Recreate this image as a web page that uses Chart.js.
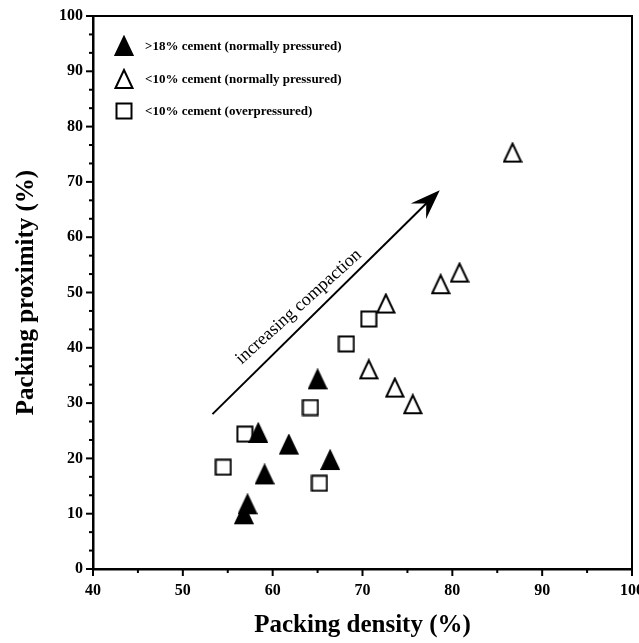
<!DOCTYPE html>
<html>
<head>
<meta charset="utf-8">
<script src="https://cdn.jsdelivr.net/npm/chart.js@4/dist/chart.umd.min.js"></script>
<style>
html,body{margin:0;padding:0;background:#fff;}
#wrap{width:639px;height:643px;position:relative;}
</style>
</head>
<body>
<div id="wrap"><canvas id="c"></canvas></div>
<script>
// ---- data ----
const highCementX = [56.8, 57.2, 58.4, 59.1, 61.8, 66.4, 65.0];
const highCementY = [9.9, 11.7, 24.6, 17.1, 22.5, 19.7, 34.3];
const lowCementNormalX = [70.7, 72.6, 73.6, 75.6, 78.7, 80.8, 86.7];
const lowCementNormalY = [36.1, 48.0, 32.8, 29.8, 51.5, 53.6, 75.3];
const lowCementOverX = [54.5, 56.9, 64.2, 65.2, 68.2, 70.7];
const lowCementOverY = [18.4, 24.4, 29.2, 15.5, 40.7, 45.2];
const seriesLabels = [">18% cement (normally pressured)", "<10% cement (normally pressured)", "<10% cement (overpressured)"];
const xTickValues = [40, 50, 60, 70, 80, 90, 100];
const yTickValues = [0, 10, 20, 30, 40, 50, 60, 70, 80, 90, 100];
const xTitle = "Packing density (%)";
const yTitle = "Packing proximity (%)";
const arrowFrom = [53.3, 28.0];
const arrowTo = [78.6, 68.5];
const arrowLabel = "increasing compaction";
const arrowLabelAt = [62.9, 47.4];

const SERIF = '"Liberation Serif", "Times New Roman", serif';

function makeTriangle(filled){
  const c = document.createElement('canvas'); c.width = 20; c.height = 22;
  const g = c.getContext('2d');
  g.beginPath(); g.moveTo(10, 2); g.lineTo(1.5, 20); g.lineTo(18.5, 20); g.closePath();
  g.lineJoin = 'miter'; g.lineWidth = 2; g.strokeStyle = '#000';
  if (filled){ g.fillStyle = '#000'; g.fill(); } else { g.fillStyle = '#fff'; g.fill(); }
  g.stroke();
  return c;
}
function makeSquare(){
  const c = document.createElement('canvas'); c.width = 18; c.height = 18;
  const g = c.getContext('2d');
  g.fillStyle = '#fff'; g.fillRect(1.5, 1.5, 15, 15);
  g.lineWidth = 2; g.strokeStyle = '#000'; g.strokeRect(1.5, 1.5, 15, 15);
  return c;
}
const imgFilledTri = makeTriangle(true);
const imgOpenTri = makeTriangle(false);
const imgSquare = makeSquare();

function pts(xs, ys){ return xs.map((v, i) => ({x: v, y: ys[i]})); }

const extras = {
  id: 'extras',
  afterDraw(chart){
    const {ctx, chartArea: a, scales: {x, y}} = chart;
    ctx.save();
    ctx.strokeStyle = '#000';
    // top/right frame
    ctx.lineWidth = 2;
    ctx.beginPath(); ctx.moveTo(a.left, a.top); ctx.lineTo(a.right, a.top); ctx.lineTo(a.right, a.bottom); ctx.stroke();
    // x ticks (major + minor)
    for (let v = x.min; v <= x.max + 0.001; v += 5){
      const px = x.getPixelForValue(v);
      const len = (Math.round(v) % 10 === 0) ? 7 : 4;
      ctx.beginPath(); ctx.moveTo(px, a.bottom); ctx.lineTo(px, a.bottom + len); ctx.stroke();
    }
    // y ticks
    for (let k = 0; k <= 30; k++){
      const v = k * 10 / 3;
      const py = y.getPixelForValue(v);
      const len = (k % 3 === 0) ? 7 : 4;
      ctx.beginPath(); ctx.moveTo(a.left, py); ctx.lineTo(a.left - len, py); ctx.stroke();
    }
    // arrow
    const x1 = x.getPixelForValue(arrowFrom[0]), y1 = y.getPixelForValue(arrowFrom[1]);
    const x2 = x.getPixelForValue(arrowTo[0]), y2 = y.getPixelForValue(arrowTo[1]);
    const ang = Math.atan2(y2 - y1, x2 - x1);
    ctx.lineWidth = 2;
    ctx.beginPath(); ctx.moveTo(x1, y1);
    ctx.lineTo(x2 - Math.cos(ang) * 14, y2 - Math.sin(ang) * 14); ctx.stroke();
    ctx.translate(x2, y2); ctx.rotate(ang);
    ctx.fillStyle = '#000';
    ctx.beginPath(); ctx.moveTo(0, 0); ctx.lineTo(-30, -11); ctx.lineTo(-19, 0); ctx.lineTo(-30, 11); ctx.closePath(); ctx.fill();
    ctx.setTransform(1, 0, 0, 1, 0, 0);
    // arrow label
    const tx = x.getPixelForValue(arrowLabelAt[0]), ty = y.getPixelForValue(arrowLabelAt[1]);
    ctx.translate(tx, ty); ctx.rotate(-42 * Math.PI / 180);
    ctx.font = '18px ' + SERIF; ctx.fillStyle = '#000'; ctx.textAlign = 'center'; ctx.textBaseline = 'middle';
    ctx.fillText(arrowLabel, 0, 0);
    ctx.setTransform(1, 0, 0, 1, 0, 0);
    // legend
    const imgs = [imgFilledTri, imgOpenTri, imgSquare];
    const rowsY = [46, 79, 111];
    ctx.font = 'bold 13px ' + SERIF; ctx.textAlign = 'left'; ctx.textBaseline = 'middle';
    for (let i = 0; i < 3; i++){
      const im = imgs[i];
      ctx.drawImage(im, 124 - im.width / 2, rowsY[i] - im.height / 2);
      ctx.fillText(chart.data.datasets[i].label, 145, rowsY[i] + 1);
    }
    ctx.restore();
  }
};

const tickFont = {family: SERIF, size: 16, weight: 'bold'};
new Chart(document.getElementById('c'), {
  type: 'scatter',
  data: {
    datasets: [
      {label: seriesLabels[0], data: pts(highCementX, highCementY), pointStyle: imgFilledTri},
      {label: seriesLabels[1], data: pts(lowCementNormalX, lowCementNormalY), pointStyle: imgOpenTri},
      {label: seriesLabels[2], data: pts(lowCementOverX, lowCementOverY), pointStyle: imgSquare}
    ]
  },
  options: {
    responsive: true, maintainAspectRatio: false, animation: false,
    events: [],
    layout: {padding: {top: 16, right: 7, left: 0, bottom: 0}},
    plugins: {legend: {display: false}, tooltip: {enabled: false}},
    scales: {
      x: {
        type: 'linear', min: 40, max: 100,
        afterBuildTicks: s => { s.ticks = xTickValues.map(v => ({value: v})); },
        ticks: {font: tickFont, color: '#000', padding: 12, maxRotation: 0, autoSkip: false},
        grid: {display: false, drawTicks: false},
        border: {display: true, color: '#000', width: 2.5},
        title: {display: true, text: xTitle, color: '#000', font: {family: SERIF, size: 25, weight: 'bold'}, padding: {top: 0, bottom: 2}},
        afterFit: s => { s.height = 74; s.paddingLeft = 0; s.paddingRight = 0; }
      },
      y: {
        type: 'linear', min: 0, max: 100,
        afterBuildTicks: s => { s.ticks = yTickValues.map(v => ({value: v})); },
        ticks: {font: tickFont, color: '#000', padding: 10, autoSkip: false},
        grid: {display: false, drawTicks: false},
        border: {display: true, color: '#000', width: 2.5},
        title: {display: true, text: yTitle, color: '#000', font: {family: SERIF, size: 25, weight: 'bold'}, padding: {top: 12, bottom: 0}},
        afterFit: s => { s.width = 93; s.paddingTop = 0; s.paddingBottom = 0; }
      }
    }
  },
  plugins: [extras]
});
</script>
</body>
</html>
